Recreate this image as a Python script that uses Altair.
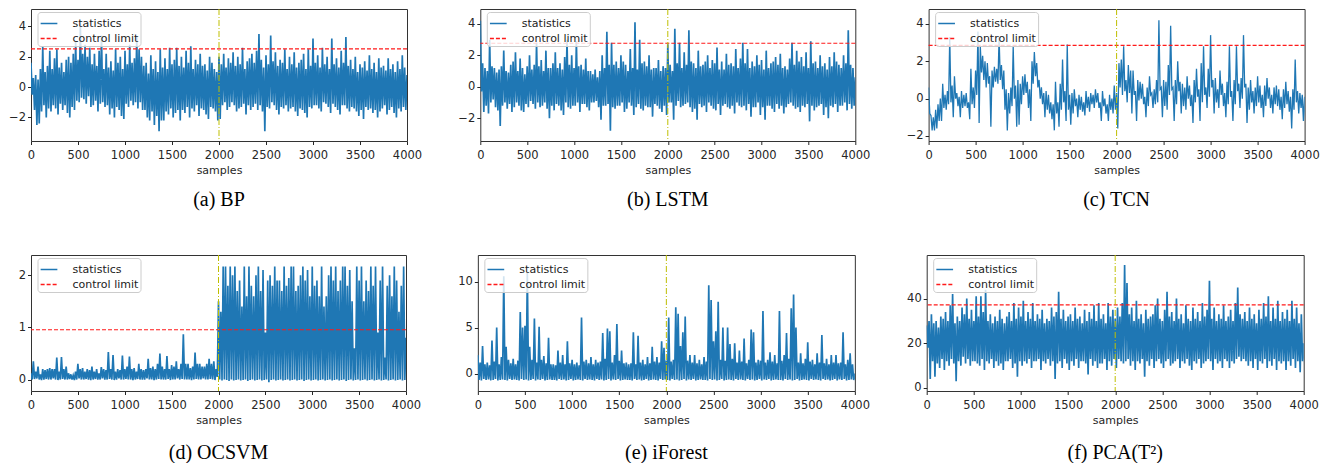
import altair as alt
import pandas as pd

# one entry per 25-sample bin: upper and lower excursion of the statistic in that bin
BINS = list(range(0, 4001, 25))

BP_HI = [
    1.6, 0.6, 0.8, 0.5, 1.2, 2.7, 1.0, 1.4,
    2.4, 1.2, 1.9, 2.5, 1.3, 1.6, 1.0, 1.8,
    2.0, 1.6, 2.2, 3.0, 1.8, 4.2, 2.2, 2.8,
    2.0, 2.6, 1.5, 2.2, 1.4, 2.4, 3.4, 1.2,
    2.2, 1.3, 1.7, 1.1, 2.5, 1.6, 2.0, 1.2,
    2.4, 1.5, 2.8, 1.6, 1.9, 3.3, 2.5, 2.0,
    1.4, 1.6, 0.9, 2.1, 1.2, 1.7, 1.0, 2.5,
    1.3, 1.9, 1.2, 2.6, 1.5, 1.8, 2.6, 1.4,
    2.0, 1.3, 2.4, 1.6, 2.7, 1.2, 1.8, 1.5,
    2.2, 1.4, 1.5, 1.1, 2.0, 1.6, 1.2, 1.0,
    2.0, 1.5, 2.2, 1.3, 1.9, 1.6, 2.3, 1.4,
    2.0, 1.5, 2.6, 1.2, 1.7, 1.9, 2.2, 1.6,
    2.4, 3.5, 1.8, 1.3, 2.1, 1.5, 3.4, 1.7,
    2.3, 1.4, 1.8, 1.6, 2.5, 1.2, 2.0, 1.5,
    2.3, 1.3, 1.6, 1.8, 2.2, 1.2, 2.5, 1.4,
    3.2, 1.6, 2.1, 1.3, 2.6, 1.5, 2.0, 1.2,
    3.2, 1.5, 1.9, 1.3, 2.4, 1.6, 3.3, 1.4,
    1.8, 1.2, 2.0, 1.0, 1.5, 1.3, 1.7, 1.1,
    2.1, 1.2, 1.6, 1.0, 1.9, 1.3, 1.4, 1.1,
    1.9, 1.2, 1.5, 1.0, 1.7, 1.2, 2.1, 1.3,
    0.8,
]
BP_LO = [
    -0.5, -1.5, -2.5, -2.4, -1.6, -1.2, -2.0, -1.4,
    -1.6, -1.2, -1.4, -1.8, -1.1, -1.5, -1.2, -1.7,
    -2.0, -1.3, -1.5, -0.9, -1.0, -0.7, -0.8, -1.1,
    -0.6, -1.3, -1.2, -0.9, -1.6, -1.1, -1.0, -1.3,
    -1.2, -1.8, -1.4, -2.0, -1.3, -1.5, -1.9, -2.1,
    -1.1, -1.3, -0.9, -1.2, -1.0, -1.4, -1.0, -1.5,
    -1.5, -2.0, -2.2, -1.6, -2.5, -1.9, -2.9, -2.2,
    -2.2, -1.6, -1.8, -1.4, -2.0, -1.7, -1.5, -2.2,
    -1.5, -1.7, -1.3, -2.0, -1.4, -1.6, -1.2, -1.9,
    -1.4, -1.5, -1.8, -2.1, -1.3, -1.4, -1.6, -2.2,
    -2.1, -1.2, -1.0, -1.5, -1.3, -1.0, -1.2, -1.6,
    -1.4, -1.3, -1.1, -1.8, -1.2, -1.5, -1.3, -1.1,
    -1.5, -1.2, -1.6, -2.9, -1.3, -1.4, -1.0, -1.2,
    -1.5, -1.8, -1.3, -1.4, -1.2, -1.6, -1.4, -1.3,
    -1.6, -1.9, -1.4, -1.5, -1.7, -2.0, -1.3, -1.4,
    -1.2, -1.2, -1.4, -1.6, -1.0, -1.1, -1.3, -1.7,
    -1.1, -1.3, -1.5, -1.8, -1.2, -1.2, -1.4, -1.6,
    -1.3, -1.4, -1.6, -1.9, -1.5, -2.1, -1.3, -1.5,
    -1.4, -1.7, -1.5, -2.0, -1.6, -1.4, -1.2, -1.8,
    -1.5, -1.3, -1.7, -2.0, -1.4, -1.6, -1.3, -1.5,
    -1.2,
]

LSTM_HI = [
    4.2, 1.5, 1.2, 1.0, 3.0, 1.3, 1.2, 0.9,
    1.1, 1.3, 2.3, 1.0, 0.9, 1.4, 1.6, 2.2,
    1.0, 1.8, 1.2, 0.8, 1.3, 2.0, 1.1, 1.4,
    2.8, 1.3, 1.7, 1.0, 2.3, 1.2, 1.2, 1.5,
    2.2, 1.2, 1.5, 1.1, 1.9, 3.0, 1.4, 2.0,
    1.2, 2.9, 1.3, 1.4, 1.1, 1.8, 1.0, 1.0,
    0.8, 1.1, 0.6, 1.0, 2.0, 1.2, 3.5, 1.4,
    2.8, 1.4, 1.6, 1.2, 2.0, 1.6, 1.4, 1.0,
    2.4, 1.2, 4.1, 1.1, 3.0, 1.5, 1.6, 1.3,
    2.0, 1.1, 1.2, 1.2, 1.7, 1.0, 1.3, 1.2,
    2.7, 1.4, 1.0, 3.7, 1.5, 2.8, 1.2, 2.2,
    1.4, 3.6, 1.6, 1.5, 1.2, 2.3, 1.3, 1.4,
    1.6, 2.0, 1.2, 1.7, 1.5, 2.5, 1.1, 1.6,
    1.1, 2.1, 1.4, 1.5, 1.3, 2.4, 1.2, 1.8,
    2.8, 1.5, 2.4, 1.2, 1.6, 1.3, 2.0, 1.4,
    1.7, 1.1, 2.3, 1.2, 1.5, 1.6, 1.9, 1.4,
    2.1, 1.2, 1.3, 1.1, 1.8, 2.8, 1.4, 2.3,
    1.6, 1.9, 1.3, 2.2, 1.2, 2.9, 1.5, 1.6,
    1.2, 2.0, 1.3, 1.5, 1.1, 1.9, 1.3, 2.2,
    1.6, 1.4, 1.2, 2.0, 1.5, 3.6, 1.4, 1.2,
    0.6,
]
LSTM_LO = [
    -0.3, -1.6, -1.2, -1.7, -1.0, -0.8, -1.3, -1.5,
    -2.5, -1.2, -1.0, -1.4, -1.1, -1.6, -1.3, -1.0,
    -1.2, -1.5, -1.6, -1.1, -1.3, -0.9, -1.1, -1.4,
    -1.0, -1.3, -1.2, -1.0, -1.4, -2.0, -1.2, -1.5,
    -1.1, -1.2, -1.5, -1.8, -1.0, -1.3, -1.4, -1.2,
    -1.2, -1.0, -1.6, -1.1, -1.1, -1.3, -1.5, -1.0,
    -1.0, -0.9, -1.3, -2.1, -1.2, -1.2, -1.1, -2.8,
    -1.3, -1.4, -1.2, -1.2, -1.0, -1.6, -1.4, -1.0,
    -1.2, -1.8, -1.3, -1.1, -1.4, -1.5, -1.2, -1.3,
    -1.3, -1.9, -1.1, -1.2, -1.4, -1.6, -1.2, -1.8,
    -1.0, -1.0, -2.1, -1.2, -0.9, -1.3, -1.2, -1.1,
    -1.0, -1.3, -1.6, -1.4, -2.1, -1.1, -1.3, -1.2,
    -1.6, -1.0, -1.2, -1.4, -1.5, -1.1, -1.8, -1.2,
    -1.1, -1.3, -1.4, -1.2, -1.7, -1.0, -1.2, -1.3,
    -1.2, -1.5, -1.1, -1.9, -1.3, -1.3, -1.0, -1.8,
    -1.3, -2.1, -1.2, -1.2, -1.4, -1.6, -1.1, -1.4,
    -1.2, -1.7, -1.3, -1.1, -1.0, -1.2, -1.4, -1.3,
    -1.6, -1.2, -1.3, -1.1, -2.2, -1.2, -1.5, -1.3,
    -1.2, -1.1, -1.8, -1.3, -2.0, -1.2, -1.3, -1.1,
    -1.6, -1.2, -1.2, -1.0, -1.5, -1.1, -1.4, -1.2,
    -1.3,
]

TCN_HI = [
    0.6, -0.9, -1.0, -0.6, -0.3, 0.0, 0.8, 0.2,
    0.4, 3.3, 0.7, 1.2, 0.3, 0.1, 0.4, 0.2,
    0.3, -0.2, 1.6, 0.6, 1.5, 3.6, 2.8, 2.3,
    2.0, 1.9, 1.2, 1.5, 1.7, 1.6, 3.3, 1.8,
    1.5, 0.5, 0.3, 0.6, 2.8, 0.7, 1.0, 0.8,
    1.2, 1.3, 0.9, 0.5, 2.0, 2.5, 1.9, 1.0,
    0.6, 0.3, 0.4, 0.2, -0.2, -0.3, 0.9, -0.2,
    0.8, 2.1, 0.4, 2.9, 0.2, 0.3, 0.5, 0.0,
    0.2, 0.1, -0.2, 0.4, 0.1, 0.3, 0.2, 0.5,
    0.3, -0.2, 0.4, 0.0, -0.3, 0.2, 0.0, 0.7,
    0.3, 1.9, 2.1, 2.8, 1.0, 1.8, 1.5, 1.5,
    0.4, 1.0, 0.9, 0.8, 0.1, 0.6, 1.2, 0.3,
    0.5, 1.0, 4.2, 0.6, 1.0, 0.9, 1.8, 3.9,
    0.6, 1.0, 2.0, 0.9, 0.8, 0.6, 1.2, 0.7,
    0.2, 1.0, 1.6, 0.5, 1.9, 2.8, 0.6, 1.6,
    3.4, 1.0, 1.1, 0.5, 1.5, 0.8, 0.3, 0.9,
    2.8, 0.4, 1.0, 2.8, 0.8, 1.1, 3.4, 0.8,
    0.6, 1.0, 0.4, 0.6, 1.2, 0.7, 0.2, 0.7,
    1.1, 0.6, 0.2, 0.6, 0.7, 0.5, 0.1, 0.5,
    0.9, 0.4, 0.1, 0.5, 2.1, 0.4, 0.3, 0.2,
    0.1,
]
TCN_LO = [
    -0.8, -1.7, -1.7, -1.6, -1.2, -1.2, -0.5, -0.6,
    -0.3, -0.2, -1.0, 0.0, -0.4, -1.0, -0.5, -0.4,
    -0.5, -1.1, -0.3, -0.5, 0.2, -1.3, 1.4, 1.0,
    0.6, 0.8, -1.5, 0.6, 0.9, 0.8, 1.0, 0.5,
    -0.6, -1.7, -0.8, -0.4, 0.0, -1.5, -1.4, -0.3,
    0.2, 0.3, -0.5, -1.2, 0.8, 1.2, 0.6, 0.0,
    -0.3, -1.0, -0.6, -0.8, -1.1, -1.7, -0.8, -1.5,
    -0.6, -0.2, -1.2, -0.6, -1.4, -0.8, -0.4, -1.0,
    -0.6, -0.7, -0.9, -0.5, -0.7, -0.3, -0.5, -0.2,
    -0.5, -1.2, -0.4, -0.8, -1.2, -0.6, -0.8, -0.6,
    -1.6, 0.6, 0.2, 0.4, -0.2, 0.3, -0.8, 0.2,
    -1.2, -0.1, 0.0, -0.3, -1.0, -0.4, 0.2, -0.5,
    -0.3, -0.2, 0.5, -1.0, -0.4, -0.6, 0.2, 0.5,
    -1.2, -0.3, 0.4, -0.8, -0.4, -0.6, 0.0, -0.4,
    -1.3, -0.2, 0.1, -1.2, -0.2, 0.2, -0.5, 0.1,
    0.6, -0.8, -0.2, -0.5, 0.2, -0.4, -1.0, -0.3,
    0.1, -1.2, -0.3, 0.4, -0.5, 0.0, 0.6, -1.3,
    -0.6, -0.2, -0.8, -0.4, -0.2, -0.5, -1.0, -0.4,
    0.0, -0.5, -0.8, -0.3, -0.4, -0.6, -1.1, -0.5,
    -0.3, -0.7, -1.6, -0.6, -0.2, -0.8, -0.5, -1.2,
    -1.4,
]

OCSVM_HI = [
    0.12, 0.35, 0.15, 0.25, 0.1, 0.2, 0.18, 0.2,
    0.22, 0.2, 0.2, 0.42, 0.15, 0.43, 0.2, 0.25,
    0.12, 0.1, 0.08, 0.15, 0.3, 0.2, 0.22, 0.15,
    0.2, 0.18, 0.25, 0.15, 0.2, 0.12, 0.24, 0.2,
    0.18, 0.53, 0.2, 0.47, 0.15, 0.2, 0.18, 0.46,
    0.2, 0.25, 0.44, 0.2, 0.22, 0.15, 0.3, 0.2,
    0.18, 0.2, 0.4, 0.22, 0.25, 0.2, 0.3, 0.5,
    0.25, 0.2, 0.45, 0.2, 0.28, 0.25, 0.35, 0.2,
    0.3, 0.87, 0.3, 0.3, 0.22, 0.25, 0.52, 0.3,
    0.3, 0.25, 0.25, 0.3, 0.4, 0.3, 0.35, 0.2,
    1.5, 1.3, 2.17, 2.17, 1.8, 2.17, 2.0, 2.17,
    1.7, 1.9, 1.4, 2.17, 1.6, 2.17, 1.8, 1.6,
    2.0, 2.17, 1.7, 2.1, 0.9, 1.9, 2.0, 1.8,
    2.17, 1.9, 1.9, 1.7, 2.17, 1.8, 1.95, 2.17,
    2.17, 1.7, 1.8, 2.0, 2.17, 1.9, 2.1, 1.6,
    2.17, 1.8, 1.9, 1.6, 2.17, 1.4, 1.6, 2.0,
    2.17, 1.9, 2.17, 1.7, 1.9, 2.17, 2.17, 1.8,
    2.1, 1.5, 0.6, 2.17, 1.9, 2.17, 1.5, 1.9,
    1.7, 2.17, 1.8, 2.17, 0.9, 1.9, 2.17, 0.42,
    1.8, 2.0, 1.6, 2.17, 1.9, 1.3, 1.8, 2.17,
    0.8,
]
OCSVM_LO = [
    0.0, 0.01, 0.02, 0.0, -0.01, 0.0, 0.01, 0.0,
    0.0, 0.02, 0.0, -0.01, 0.0, 0.01, 0.0, 0.0,
    0.01, 0.0, -0.01, 0.0, 0.02, 0.0, 0.0, 0.01,
    0.0, -0.01, 0.0, 0.01, 0.0, 0.0, 0.02, 0.0,
    0.0, 0.01, 0.0, -0.01, 0.0, 0.02, 0.0, 0.0,
    0.01, 0.0, 0.0, -0.01, 0.0, 0.01, 0.0, 0.0,
    0.0, 0.02, 0.0, 0.0, -0.01, 0.0, 0.01, 0.0,
    0.0, 0.0, 0.01, -0.01, 0.0, 0.0, 0.02, 0.0,
    0.01, 0.0, 0.0, 0.0, -0.01, 0.0, 0.01, 0.0,
    0.0, 0.02, 0.0, 0.0, 0.01, 0.0, -0.01, 0.05,
    0.0, -0.02, 0.0, -0.01, -0.03, 0.0, -0.02, -0.01,
    0.0, -0.02, -0.01, 0.0, -0.03, -0.01, 0.0, -0.02,
    -0.01, 0.0, -0.02, -0.01, 0.0, -0.05, -0.01, 0.0,
    -0.02, -0.01, 0.0, -0.02, -0.01, 0.0, -0.02, -0.01,
    0.0, -0.02, -0.01, 0.0, -0.03, -0.01, 0.0, -0.02,
    -0.01, 0.0, -0.02, -0.01, 0.0, -0.02, -0.01, 0.0,
    -0.02, -0.01, 0.0, -0.02, -0.01, 0.0, -0.03, -0.01,
    0.0, -0.02, -0.01, 0.0, -0.02, -0.01, 0.0, -0.02,
    -0.01, 0.0, -0.02, -0.01, 0.0, -0.02, -0.01, 0.0,
    -0.02, -0.01, 0.0, -0.02, -0.01, 0.0, -0.02, -0.01,
    0.0,
]

IFOREST_HI = [
    2.0, 1.2, 3.0, 1.0, 1.2, 0.9, 3.6, 1.3,
    5.0, 1.0, 1.8, 10.6, 2.9, 1.5, 1.1, 1.6,
    1.0, 1.4, 6.7, 5.0, 5.2, 11.0, 2.9, 1.5,
    6.0, 1.2, 5.1, 1.5, 1.9, 1.1, 3.9, 1.0,
    1.0, 0.9, 2.5, 1.2, 2.0, 1.0, 3.5, 1.1,
    1.5, 1.0, 1.2, 0.9, 6.1, 1.3, 1.5, 1.1,
    1.8, 1.0, 1.5, 1.2, 1.3, 4.4, 1.6, 4.9,
    4.6, 1.2, 2.0, 5.4, 1.4, 2.5, 1.1, 1.2,
    1.0, 1.1, 4.5, 1.0, 4.1, 1.2, 1.5, 1.0,
    1.8, 1.1, 2.9, 1.3, 1.8, 1.2, 3.5, 2.8,
    1.4, 6.1, 1.3, 1.5, 7.2, 6.5, 3.0, 4.5,
    6.2, 1.4, 2.0, 1.2, 2.0, 1.1, 1.5, 1.0,
    1.8, 1.3, 9.6, 8.0, 3.5, 4.6, 7.8, 1.5,
    5.0, 1.4, 5.0, 3.2, 1.6, 3.3, 1.2, 2.5,
    1.3, 3.8, 1.1, 1.5, 4.8, 4.5, 1.2, 1.5,
    1.4, 6.8, 1.2, 1.5, 2.3, 1.3, 2.0, 1.1,
    6.8, 1.4, 2.0, 4.4, 1.6, 7.1, 8.6, 5.0,
    1.2, 2.2, 1.1, 1.6, 3.4, 1.3, 1.5, 1.0,
    2.2, 1.2, 4.2, 1.1, 1.6, 1.0, 2.0, 1.2,
    2.0, 1.1, 1.2, 4.5, 1.0, 1.5, 2.2, 1.0,
    0.0,
]
IFOREST_LO = [
    -0.7, -0.75, -0.6, -0.7, -0.65, -0.75, -0.7, -0.6,
    -0.75, -0.7, -0.65, -0.7, -0.75, -0.6, -0.7, -0.65,
    -0.7, -0.75, -0.6, -0.7, -0.65, -0.75, -0.7, -0.6,
    -0.75, -0.65, -0.7, -0.6, -0.75, -0.7, -0.65, -0.7,
    -0.7, -0.75, -0.6, -0.7, -0.65, -0.75, -0.7, -0.6,
    -0.75, -0.7, -0.65, -0.7, -0.75, -0.6, -0.7, -0.65,
    -0.7, -0.75, -0.6, -0.7, -0.65, -0.75, -0.7, -0.6,
    -0.75, -0.65, -0.7, -0.6, -0.75, -0.7, -0.65, -0.7,
    -0.7, -0.75, -0.6, -0.7, -0.65, -0.75, -0.7, -0.6,
    -0.75, -0.7, -0.65, -0.7, -0.75, -0.6, -0.7, -0.65,
    -0.7, -0.75, -0.6, -0.7, -0.65, -0.75, -0.7, -0.6,
    -0.75, -0.65, -0.7, -0.6, -0.75, -0.7, -0.65, -0.7,
    -0.7, -0.75, -0.6, -0.7, -0.65, -0.75, -0.7, -0.6,
    -0.75, -0.7, -0.65, -0.7, -0.75, -0.6, -0.7, -0.65,
    -0.7, -0.75, -0.6, -0.7, -0.65, -0.75, -0.7, -0.6,
    -0.75, -0.65, -0.7, -0.6, -0.75, -0.7, -0.65, -0.7,
    -0.7, -0.75, -0.6, -0.7, -0.65, -0.75, -0.7, -0.6,
    -0.75, -0.7, -0.65, -0.7, -0.75, -0.6, -0.7, -0.65,
    -0.7, -0.75, -0.6, -0.7, -0.65, -0.75, -0.7, -0.6,
    -0.75, -0.65, -0.7, -0.6, -0.75, -0.7, -0.65, -0.7,
    -0.9,
]

PCA_HI = [
    28, 30, 33, 29, 30, 27, 32, 31,
    34, 30, 37, 42, 29, 32, 30, 36,
    33, 40, 31, 35, 30, 41, 32, 41,
    34, 44, 30, 33, 29, 32, 30, 35,
    31, 29, 32, 34, 30, 38, 31, 36,
    32, 39, 30, 34, 31, 38, 30, 33,
    31, 35, 29, 31, 30, 36, 32, 34,
    43, 31, 35, 30, 32, 33, 30, 36,
    31, 32, 29, 35, 30, 34, 31, 37,
    30, 38, 31, 33, 29, 38, 32, 35,
    31, 36, 32, 38, 55, 47, 33, 36,
    30, 39, 31, 33, 29, 35, 31, 32,
    33, 37, 40, 31, 30, 35, 43, 32,
    34, 30, 40, 31, 33, 29, 37, 31,
    30, 36, 31, 34, 30, 38, 32, 35,
    48, 31, 36, 30, 33, 31, 37, 30,
    32, 35, 30, 38, 45, 33, 31, 34,
    30, 36, 31, 33, 29, 35, 31, 38,
    32, 41, 30, 36, 31, 39, 30, 34,
    31, 35, 30, 39, 31, 36, 29, 33,
    20,
]
PCA_LO = [
    18, 4, 12, 5, 11, 9, 13, 8,
    12, 10, 13, 11, 3, 12, 10, 14,
    11, 13, 10, 12, 12, 11, 10, 13,
    8, 12, 11, 13, 9, 12, 10, 11,
    8, 12, 12, 13, 9, 11, 5, 12,
    10, 12, 11, 13, 9, 12, 12, 13,
    8, 12, 11, 13, 10, 12, 4, 11,
    12, 9, 13, 11, 8, 12, 10, 13,
    9, 12, 12, 11, 6, 13, 10, 12,
    9, 11, 11, 13, 8, 12, 10, 13,
    9, 13, 12, 11, 12, 13, 10, 12,
    8, 12, 11, 13, 5, 12, 10, 13,
    9, 12, 13, 11, 9, 12, 13, 10,
    11, 12, 13, 9, 12, 11, 13, 10,
    8, 12, 11, 13, 9, 11, 12, 13,
    12, 8, 13, 11, 12, 9, 13, 12,
    9, 12, 11, 13, 14, 12, 13, 12,
    10, 12, 9, 13, 8, 12, 11, 13,
    9, 12, 10, 13, 8, 12, 11, 12,
    8, 12, 10, 13, 9, 12, 7, 12,
    10,
]

CAPTIONS = ["(a) BP", "(b) LSTM", "(c) TCN", "(d) OCSVM", "(e) iForest", "(f) PCA(T²)"]
LIMITS = [2.52, 2.77, 2.85, 0.955, None, 37.2]
YDOMAINS = [[-3.55, 5.15], [-3.45, 4.95], [-2.27, 4.8], [-0.22, 2.39], [-1.9, 12.9], [-1.35, 59.5]]
YTICKS = [[-2, 0, 2, 4], [-2, 0, 2, 4], [-2, 0, 2, 4], [0, 1, 2], [0, 5, 10], [0, 20, 40]]
XTICKS = list(range(0, 4001, 500))
FAULT_AT = [2000]
SERIES = ["statistics", "control limit"]

BLUE = "#1f77b4"
RED = "#ff1a1a"
OLIVE = "#bfbf00"
TXT = "#262626"


def build_table(hi, lo):
    xs, vs = [], []
    for b, h, l in zip(BINS, hi, lo):
        xs += [b, b + 12.5]
        vs += [h, l]
    return pd.DataFrame({"sample": xs, "value": vs, "series": "statistics"})


def legend():
    return alt.Legend(title=None, orient="none", legendX=6.5, legendY=3)


def panel(hi, lo, limit, ydom, yticks, caption, w, h, ext, cap_offset, sw):
    df = build_table(hi, lo)
    color = alt.Color("series:N", scale=alt.Scale(domain=SERIES, range=[BLUE, RED]),
                      legend=legend())
    dash = alt.StrokeDash("series:N", scale=alt.Scale(domain=SERIES, range=[[1, 0], [4, 2]]),
                          legend=legend())
    x = alt.X("sample:Q", scale=alt.Scale(domain=[0, 4000], nice=False, zero=False),
              axis=alt.Axis(values=XTICKS, format="d", title="samples", labelFlush=False,
                            labelOverlap=False))
    y = alt.Y("value:Q", scale=alt.Scale(domain=ydom, nice=False, zero=False),
              axis=alt.Axis(values=yticks, format="d", title=None, minExtent=ext, maxExtent=ext,
                            labelOverlap=False))
    layers = [alt.Chart(df).mark_line(strokeWidth=sw, clip=True).encode(
        x=x, y=y, color=color, strokeDash=dash)]
    if limit is not None:
        ldf = pd.DataFrame({"value": [limit], "series": ["control limit"]})
        layers.append(alt.Chart(ldf).mark_rule(strokeWidth=1.1).encode(
            y="value:Q", color=color, strokeDash=dash))
    vdf = pd.DataFrame({"sample": FAULT_AT})
    layers.append(alt.Chart(vdf).mark_rule(color=OLIVE, strokeWidth=1,
                                           strokeDash=[6, 2, 1, 2]).encode(x="sample:Q"))
    return alt.layer(*layers).properties(
        width=w, height=h,
        title=alt.TitleParams(caption, orient="bottom", offset=cap_offset,
                              font="Liberation Serif", fontSize=20, fontWeight="normal",
                              color="black"))


HI = [BP_HI, LSTM_HI, TCN_HI, OCSVM_HI, IFOREST_HI, PCA_HI]
LO = [BP_LO, LSTM_LO, TCN_LO, OCSVM_LO, IFOREST_LO, PCA_LO]
widths = [376, 375, 376, 375, 377, 377]
heights = [132, 132, 132, 136, 136, 136]
exts = [22, 22, 22, 14, 18, 18]
offs = [14, 14, 14, 17, 17, 17]
strokes = [1.7, 1.7, 1.3, 1.7, 1.7, 1.7]

panels = [panel(HI[i], LO[i], LIMITS[i], YDOMAINS[i], YTICKS[i], CAPTIONS[i],
                widths[i], heights[i], exts[i], offs[i], strokes[i]) for i in range(6)]

res = dict(color="independent", strokeDash="independent", x="independent", y="independent")
row1 = alt.hconcat(*panels[:3], spacing=73.3, bounds="flush").resolve_scale(**res)
row2 = alt.hconcat(*panels[3:], spacing=71.85, bounds="flush").resolve_scale(**res)

chart = alt.vconcat(row1, row2, spacing=44).resolve_scale(**res).properties(
    padding=0
).configure_axis(
    labelFont="DejaVu Sans", labelFontSize=11.5, labelColor=TXT,
    tickColor=TXT, tickSize=3.5, tickWidth=1, domain=False, grid=False,
    titleFont="DejaVu Sans", titleFontSize=11, titleFontWeight="normal", titleColor=TXT,
    labelPadding=2, titlePadding=4,
).configure_axisX(labelPadding=4.5).configure_view(
    stroke="#333333", strokeWidth=1
).configure_legend(
    fillColor="rgba(255,255,255,0.8)", strokeColor="#cccccc",
    cornerRadius=3, padding=2, rowPadding=0, labelOffset=14, symbolSize=280,
    symbolStrokeWidth=1.5, labelFont="DejaVu Sans", labelFontSize=11, labelColor="#222222",
    symbolType="stroke",
)

chart.save("out.html", embed_options={"renderer": "svg", "actions": False})
